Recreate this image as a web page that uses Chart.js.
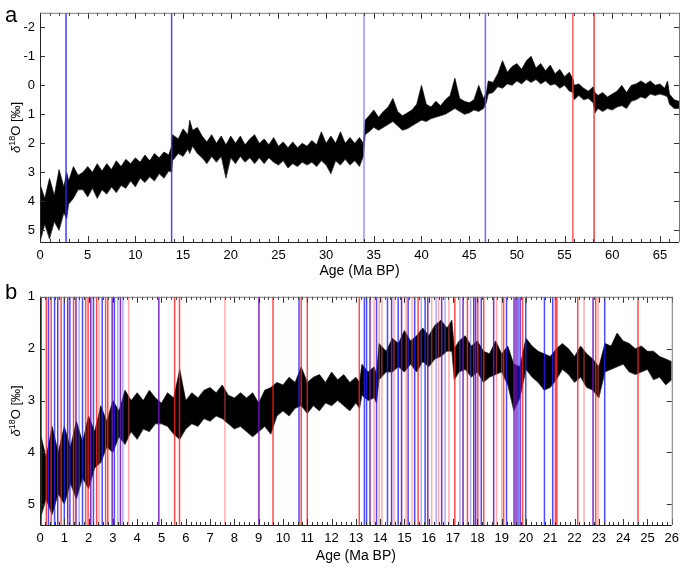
<!DOCTYPE html>
<html>
<head>
<meta charset="utf-8">
<script src="https://cdn.jsdelivr.net/npm/chart.js@4.4.1/dist/chart.umd.min.js"></script>
<style>
  html, body { margin: 0; padding: 0; background: #fff; }
  #wrap { position: relative; width: 685px; height: 568px; }
  .box { position: absolute; left: 0; width: 685px; height: 284px; }
</style>
</head>
<body>
<div id="wrap">
  <div class="box" style="top:0"><canvas id="chartA" width="685" height="284"></canvas></div>
  <div class="box" style="top:284px"><canvas id="chartB" width="685" height="284"></canvas></div>
</div>
<script>
// panel a: 0-67 Ma, envelope of the noisy d18O record (min = top edge, max = bottom edge)
const ageA = [
  0, 0.5, 1, 1.5, 2, 2.5, 2.8, 3, 3.5, 4,
  4.5, 5, 5.5, 6, 6.5, 7, 7.5, 8, 8.5, 9,
  9.5, 10, 10.5, 11, 11.5, 12, 12.5, 13, 13.5, 13.8,
  13.9, 14.5, 15, 15.5, 15.7, 16, 16.5, 17, 17.5, 18,
  18.5, 19, 19.5, 20, 20.5, 21, 21.5, 22, 22.5, 23,
  23.5, 24, 24.5, 25, 25.5, 26, 26.5, 27, 27.5, 28,
  28.5, 29, 29.5, 30, 30.5, 31, 31.5, 32, 32.5, 33,
  33.5, 33.9, 34.1, 34.5, 35, 35.5, 36, 36.5, 37, 37.5,
  38, 38.5, 39, 39.5, 40, 40.5, 41, 41.5, 42, 42.5,
  43, 43.5, 44, 44.5, 45, 45.5, 46, 46.5, 46.8, 47,
  47.5, 48, 48.5, 49, 49.5, 50, 50.5, 51, 51.5, 52,
  52.5, 53, 53.5, 54, 54.5, 55, 55.5, 55.9, 56, 56.5,
  57, 57.5, 58, 58.2, 58.5, 59, 59.5, 60, 60.5, 61,
  61.5, 62, 62.5, 63, 63.5, 64, 64.5, 65, 65.5, 65.8,
  66, 66.5, 67
];
const minA = [
  3.4, 3.9, 3.2, 3.8, 2.9, 3.5, 3.0, 3.3, 2.8, 3.1,
  3.0, 2.8, 3.0, 2.7, 2.95, 2.7, 2.9, 2.6, 2.8, 2.55,
  2.7, 2.5, 2.65, 2.4, 2.6, 2.35, 2.5, 2.3, 2.4, 2.1,
  1.7, 1.85, 1.5, 1.7, 1.2, 1.55, 1.45, 1.75, 1.95, 1.7,
  2.0, 1.75, 2.05, 1.75, 2.0, 1.75, 2.05, 1.85, 1.7, 2.0,
  1.85, 2.05, 1.8, 2.1, 1.95, 2.15, 1.95, 2.15, 2.0, 2.1,
  1.9, 2.05, 1.6, 2.0, 1.75, 2.0, 1.6, 2.0, 1.8, 2.0,
  1.8, 2.0, 1.2, 1.05, 0.85, 1.1, 0.9, 0.75, 0.45, 0.9,
  1.05, 0.95, 0.85, 0.65, 0.0, 0.65, 0.75, 0.55, 0.7, 0.5,
  0.35, -0.25, 0.45, 0.55, 0.6, 0.5, 0.0, 0.45, 0.25, -0.15,
  -0.1, -0.4, -0.85, -0.45, -0.65, -0.75, -0.55, -0.85, -1.0, -0.6,
  -0.75, -0.5, -0.7, -0.4, -0.55, -0.3, -0.45, -0.2, 0.0, -0.05,
  0.1, 0.2, 0.05, 0.25, 0.35, 0.25, 0.4, 0.3, 0.2, 0.0,
  0.25, 0.0, -0.05, -0.15, -0.05, -0.15, 0.0, -0.05, 0.1, -0.15,
  0.3, 0.5, 0.55
];
const maxA = [
  5.4, 4.8, 5.3, 4.7, 5.0, 4.4, 4.6, 4.1, 3.9, 3.6,
  3.6, 3.85, 3.55, 3.9, 3.6, 3.75, 3.5, 3.7, 3.45, 3.55,
  3.3, 3.5, 3.2, 3.35, 3.15, 3.3, 3.05, 3.2, 2.95, 3.0,
  2.6, 2.35, 2.45, 2.2, 2.35, 2.1, 2.35, 2.5, 2.7, 2.45,
  2.65, 2.45, 3.2, 2.5, 2.7, 2.45, 2.65, 2.5, 2.7, 2.5,
  2.7, 2.5, 2.65, 2.75, 2.6, 2.85, 2.7, 2.8, 2.65, 2.75,
  2.65, 2.8, 2.6, 2.75, 3.05, 2.6, 2.75, 2.55, 2.75, 2.6,
  2.8, 2.45, 1.7, 1.6, 1.45, 1.55, 1.45, 1.35, 1.25, 1.4,
  1.55, 1.5, 1.4, 1.3, 1.2, 1.25, 1.15, 1.1, 1.05, 1.0,
  0.9, 0.8, 0.9, 1.0, 0.95, 0.85, 0.9, 0.8, 0.6, 0.3,
  0.25, 0.05, 0.1, -0.05, 0.0, -0.15, -0.05, -0.2, -0.1, -0.2,
  -0.05, -0.15, 0.0, -0.05, 0.1, 0.0, 0.2, 0.25, 0.5, 0.35,
  0.5, 0.45, 0.6, 0.95, 0.8, 0.9, 0.8, 0.85, 0.75, 0.7,
  0.8, 0.55, 0.5, 0.4, 0.45, 0.3, 0.35, 0.3, 0.35, 0.4,
  0.65, 0.8, 0.8
];
const eventsA = [
  { age: 2.73, color: 'rgba(40,40,255,0.9)' },
  { age: 13.8, color: 'rgba(70,50,210,0.9)' },
  { age: 33.97, color: 'rgba(120,120,255,0.8)' },
  { age: 46.7, color: 'rgba(80,80,255,0.85)' },
  { age: 55.87, color: 'rgba(255,60,60,0.85)' },
  { age: 58.1, color: 'rgba(220,40,40,0.85)' }
];
const xTicksA = [0, 5, 10, 15, 20, 25, 30, 35, 40, 45, 50, 55, 60, 65];
const yTicksA = [-2, -1, 0, 1, 2, 3, 4, 5];

// panel b: 0-26 Ma
const ageB = [
  0, 0.25, 0.5, 0.75, 1, 1.25, 1.5, 1.75, 2, 2.25,
  2.5, 2.75, 3, 3.25, 3.5, 3.75, 4, 4.25, 4.5, 4.75,
  5, 5.25, 5.5, 5.75, 6, 6.25, 6.5, 6.75, 7, 7.25,
  7.5, 7.75, 8, 8.25, 8.5, 8.75, 9, 9.25, 9.5, 9.75,
  10, 10.25, 10.5, 10.75, 11, 11.25, 11.5, 11.75, 12, 12.25,
  12.5, 12.75, 13, 13.15, 13.25, 13.5, 13.75, 13.85, 13.95, 14.25,
  14.5, 14.75, 15, 15.25, 15.5, 15.75, 16, 16.25, 16.5, 16.75,
  16.95, 17.05, 17.25, 17.5, 17.75, 18, 18.25, 18.5, 18.75, 19,
  19.25, 19.5, 19.75, 20, 20.25, 20.5, 20.75, 21, 21.25, 21.5,
  21.75, 22, 22.25, 22.5, 22.75, 23, 23.25, 23.5, 23.75, 24,
  24.25, 24.5, 24.75, 25, 25.25, 25.5, 25.75, 26
];
const minB = [
  3.6, 4.1, 3.5, 4.0, 3.5, 3.9, 3.4, 3.8, 3.3, 3.6,
  3.1, 3.4, 3.0, 3.2, 2.8, 3.0, 2.85, 3.0, 2.8, 2.95,
  3.05, 2.85, 2.95, 2.4, 3.0, 2.85, 2.95, 2.8, 2.75, 2.85,
  2.7, 2.9, 2.95, 2.85, 2.95, 2.85, 3.05, 2.8, 2.75, 2.65,
  2.7, 2.55, 2.65, 2.35, 2.65, 2.55, 2.5, 2.65, 2.45, 2.6,
  2.5, 2.65, 2.55, 2.65, 2.3, 2.45, 2.35, 2.5, 1.9, 2.05,
  1.8, 1.9, 1.65, 1.85, 1.75, 1.6, 1.75, 1.55, 1.45, 1.6,
  1.45, 2.0, 1.85, 1.75, 1.95, 1.85, 2.05, 2.1, 1.85, 2.1,
  1.95, 2.3, 2.35, 1.8, 1.95, 2.05, 2.1, 2.15, 2.0, 1.9,
  2.0, 2.15, 1.95, 2.1, 2.2, 2.35, 1.9, 1.95, 1.7, 1.85,
  1.9, 2.0, 1.95, 2.05, 2.05, 2.15, 2.2, 2.25
];
const maxB = [
  5.3, 4.9, 5.2, 4.8, 5.0, 4.6, 4.9, 4.5, 4.7, 4.3,
  4.2, 3.9, 4.0, 3.7, 3.85, 3.6, 3.75, 3.55, 3.6, 3.45,
  3.45, 3.5, 3.65, 3.75, 3.55, 3.45, 3.5, 3.35, 3.4, 3.3,
  3.35, 3.45, 3.55, 3.5, 3.6, 3.7, 3.6, 3.5, 3.65, 3.3,
  3.2, 3.3, 3.15, 3.1, 3.25, 3.1, 3.2, 3.05, 3.1, 3.0,
  3.1, 3.2, 3.05, 3.15, 2.9, 3.0, 2.95, 3.05, 2.6, 2.45,
  2.45, 2.35, 2.45, 2.3, 2.45, 2.25, 2.35, 2.2, 2.15, 2.05,
  2.05, 2.6, 2.45, 2.4, 2.55, 2.45, 2.65, 2.55, 2.5, 2.45,
  2.7, 3.2, 2.95, 2.4, 2.55, 2.65, 2.8, 2.75, 2.6, 2.4,
  2.5, 2.65, 2.55, 2.75, 2.8, 2.95, 2.45, 2.4, 2.35, 2.3,
  2.45, 2.5, 2.45, 2.4, 2.6, 2.55, 2.7, 2.6
];
const redB = [0.26, 0.46, 0.87, 1.38, 1.88, 1.98, 2.33, 2.7, 2.79, 5.54, 5.74,
  9.59, 10.75, 11.0, 13.14, 15.56, 17.07, 17.59, 18.02, 18.26, 19.08, 19.86,
  21.21, 21.27, 22.13, 22.87, 24.61];
const lightRedB = [2.43, 3.65, 7.61, 13.75, 13.96, 14.07, 14.57, 15.07, 15.31,
  16.12, 16.4, 16.83, 18.79, 19.0, 22.39, 22.97];
const blueB = [0.05, 0.35, 0.6, 1.0, 1.23, 1.75, 2.2, 2.56, 3.06, 10.66, 13.35,
  13.44, 13.85, 14.3, 14.74, 15.15, 15.42, 15.85, 18.16, 19.2, 19.67, 19.99,
  20.76, 21.1, 23.24];
const lightBlueB = [1.61, 3.2, 3.41, 15.69, 16.3, 16.67, 17.28, 17.72];
const purpleB = [0.73, 1.14, 1.48, 2.09, 2.97, 3.31, 4.89, 9.01, 13.58, 14.47,
  14.88, 15.96, 16.53, 17.41, 17.85, 17.93, 18.67, 19.51, 19.59, 19.76, 22.76];
const xTicksB = [0, 1, 2, 3, 4, 5, 6, 7, 8, 9, 10, 11, 12, 13, 14, 15, 16, 17,
  18, 19, 20, 21, 22, 23, 24, 25, 26];
const yTicksB = [1, 2, 3, 4, 5];

const FONT = '"Liberation Sans", Arial, sans-serif';
Chart.defaults.font.family = FONT;
Chart.defaults.font.size = 13;
Chart.defaults.color = '#000';

function points(ages, vals) {
  return ages.map((a, i) => ({ x: a, y: vals[i] }));
}

// one polyline per colour, broken by nulls between the event lines
function eventLines(ages, yLo, yHi) {
  const out = [];
  ages.forEach(a => { out.push({ x: a, y: yLo }, { x: a, y: yHi }, { x: a, y: null }); });
  return out;
}

function drawYTitle(ctx, cx, cy) {
  ctx.save();
  ctx.translate(cx, cy);
  ctx.rotate(-Math.PI / 2);
  ctx.fillStyle = '#000';
  ctx.textBaseline = 'alphabetic';
  ctx.textAlign = 'left';
  const parts = [
    ['\u03b4', 'italic 13px ' + FONT, 0],
    ['18', '9px ' + FONT, -5],
    ['O [\u2030]', '13px ' + FONT, 0]
  ];
  let total = 0;
  parts.forEach(p => { ctx.font = p[1]; p.push(ctx.measureText(p[0]).width); total += p[3]; });
  let xx = -total / 2;
  parts.forEach(p => { ctx.font = p[1]; ctx.fillText(p[0], xx, 5 + p[2]); xx += p[3]; });
  ctx.restore();
}

const frame = {
  id: 'frame',
  afterDatasetsDraw(chart, args, opts) {
    const { ctx, chartArea: a, scales: { x, y } } = chart;
    ctx.save();
    ctx.strokeStyle = '#333';
    ctx.lineWidth = 1;
    ctx.beginPath();
    const n = Math.round((x.max - x.min) / opts.xMinor);
    for (let i = 0; i <= n; i++) {
      const v = x.min + i * opts.xMinor;
      const px = Math.round(x.getPixelForValue(v)) + 0.5;
      const major = Math.abs(v / opts.xMajor - Math.round(v / opts.xMajor)) < 1e-6;
      const len = major ? 6 : 3;
      ctx.moveTo(px, a.bottom); ctx.lineTo(px, a.bottom - len);
      ctx.moveTo(px, a.top); ctx.lineTo(px, a.top + len);
    }
    y.ticks.forEach(t => {
      const py = Math.round(y.getPixelForValue(t.value)) + 0.5;
      ctx.moveTo(a.left, py); ctx.lineTo(a.left + 5, py);
      ctx.moveTo(a.right, py); ctx.lineTo(a.right - 5, py);
    });
    ctx.stroke();

    // box: darker on left/bottom, lighter on top/right
    ctx.strokeStyle = '#222';
    ctx.beginPath();
    ctx.moveTo(a.left + 0.5, a.top); ctx.lineTo(a.left + 0.5, a.bottom + 0.5);
    ctx.lineTo(a.right, a.bottom + 0.5);
    ctx.stroke();
    ctx.strokeStyle = '#777';
    ctx.beginPath();
    ctx.moveTo(a.left, a.top + 0.5); ctx.lineTo(a.right + 0.5, a.top + 0.5);
    ctx.lineTo(a.right + 0.5, a.bottom);
    ctx.stroke();

    ctx.fillStyle = '#000';
    ctx.font = '22px ' + FONT;
    ctx.textAlign = 'left';
    ctx.textBaseline = 'alphabetic';
    ctx.fillText(opts.letter, 5, opts.letterY);
    drawYTitle(ctx, 15, (a.top + a.bottom) / 2);
    ctx.restore();
  }
};

function makeChart(id, cfg) {
  const lineSets = cfg.events.map(e => ({
    data: eventLines(e.ages, cfg.yMin, cfg.yMax),
    borderColor: e.color,
    borderWidth: 1.5,
    pointRadius: 0,
    spanGaps: false,
    fill: false,
    order: 0
  }));
  return new Chart(document.getElementById(id), {
    type: 'line',
    data: {
      datasets: [
        {
          data: points(cfg.ages, cfg.lo),
          borderColor: 'rgba(50,50,50,0.8)',
          borderWidth: 1,
          pointRadius: 0,
          tension: 0,
          fill: false,
          order: 2
        },
        {
          data: points(cfg.ages, cfg.hi),
          borderColor: 'rgba(50,50,50,0.8)',
          backgroundColor: '#000',
          borderWidth: 1,
          pointRadius: 0,
          tension: 0,
          fill: '-1',
          order: 1
        }
      ].concat(lineSets)
    },
    options: {
      responsive: false,
      animation: false,
      events: [],
      layout: { padding: { top: cfg.padTop, right: 6, left: 0, bottom: 0 } },
      plugins: {
        legend: { display: false },
        tooltip: { enabled: false },
        frame: { letter: cfg.letter, letterY: cfg.letterY, xMajor: cfg.xMajor, xMinor: cfg.xMinor }
      },
      scales: {
        x: {
          type: 'linear',
          min: 0,
          max: cfg.xMax,
          grid: { display: false, drawTicks: false },
          border: { display: false },
          ticks: { padding: 6, maxRotation: 0, autoSkip: false },
          afterBuildTicks: s => { s.ticks = cfg.xTicks.map(v => ({ value: v })); },
          afterFit: s => { s.height = cfg.xAxisH; },
          title: { display: true, text: 'Age (Ma BP)', font: { size: 14 }, padding: { top: 0, bottom: cfg.titlePad } }
        },
        y: {
          type: 'linear',
          reverse: true,
          min: cfg.yMin,
          max: cfg.yMax,
          grid: { display: false, drawTicks: false },
          border: { display: false },
          ticks: { padding: 5 },
          afterBuildTicks: s => { s.ticks = cfg.yTicks.map(v => ({ value: v })); },
          afterFit: s => { s.width = 40; }
        }
      }
    },
    plugins: [frame]
  });
}

makeChart('chartA', {
  ages: ageA, lo: minA, hi: maxA,
  events: eventsA.map(e => ({ ages: [e.age], color: e.color })),
  xMax: 67, yMin: -2.5, yMax: 5.4,
  xTicks: xTicksA, yTicks: yTicksA, xMajor: 5, xMinor: 1,
  padTop: 5, xAxisH: 42, titlePad: 4,
  letter: 'a', letterY: 22
});

makeChart('chartB', {
  ages: ageB, lo: minB, hi: maxB,
  events: [
    { ages: lightRedB, color: 'rgba(255,90,90,0.5)' },
    { ages: lightBlueB, color: 'rgba(90,90,255,0.5)' },
    { ages: redB, color: 'rgba(255,30,30,0.8)' },
    { ages: blueB, color: 'rgba(30,30,255,0.8)' },
    { ages: purpleB, color: 'rgba(110,20,190,0.9)' }
  ],
  xMax: 26, yMin: 1, yMax: 5.4,
  xTicks: xTicksB, yTicks: yTicksB, xMajor: 1, xMinor: 0.2,
  padTop: 6, xAxisH: 43, titlePad: 3,
  letter: 'b', letterY: 15
});
</script>
</body>
</html>
